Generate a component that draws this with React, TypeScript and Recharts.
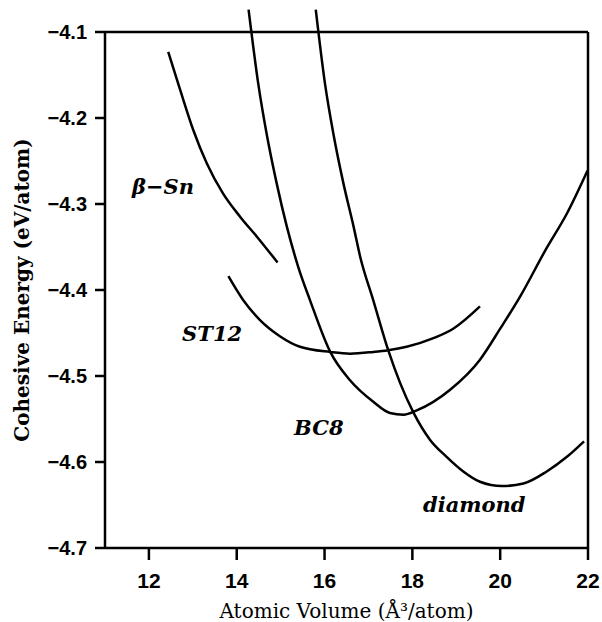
// Cohesive energy vs atomic volume for four Si phases -- recharts line chart.

import { Label, Line, LineChart, ReferenceDot, XAxis, YAxis } from "recharts";

const betaSnVolume = [12.44, 12.71, 13.01, 13.32, 13.69, 14.08, 14.46, 14.93];
const betaSnEnergy = [-4.123, -4.167, -4.214, -4.253, -4.288, -4.315, -4.338, -4.368];

const st12Volume = [13.81, 14.15, 14.53, 14.99, 15.44, 16.13, 16.58, 17.11, 17.45, 17.87, 18.48, 18.93, 19.54];
const st12Energy = [-4.384, -4.412, -4.435, -4.454, -4.466, -4.472, -4.474, -4.472, -4.47, -4.466, -4.456, -4.445, -4.419];

const bc8Volume = [14.27, 14.49, 14.68, 14.91, 15.14, 15.4, 15.67, 16.13, 16.58, 17.11, 17.49, 17.8, 18.1, 18.86, 19.54, 20.0, 20.45, 21.06, 21.52, 21.99];
const bc8Energy = [-4.074, -4.16, -4.218, -4.276, -4.326, -4.373, -4.412, -4.472, -4.505, -4.53, -4.543, -4.545, -4.54, -4.516, -4.481, -4.445, -4.408, -4.351, -4.311, -4.261];

const diamondVolume = [15.8, 16.01, 16.2, 16.43, 16.66, 16.81, 17.11, 17.45, 17.72, 18.02, 18.4, 18.78, 19.16, 19.54, 20.04, 20.53, 21.06, 21.52, 21.91];
const diamondEnergy = [-4.074, -4.16, -4.218, -4.276, -4.326, -4.361, -4.412, -4.47, -4.508, -4.542, -4.574, -4.594, -4.611, -4.623, -4.628, -4.625, -4.611, -4.594, -4.576];

const volumeTicks = [12, 14, 16, 18, 20, 22];
const energyTicks = [-4.7, -4.6, -4.5, -4.4, -4.3, -4.2, -4.1];

const phaseNames = ["β−Sn", "ST12", "BC8", "diamond"];
const phaseLabelVolume = [12.32, 13.44, 15.87, 19.41];
const phaseLabelEnergy = [-4.28, -4.451, -4.56, -4.65];

const zip = (xs: number[], ys: number[]) => xs.map((x, i) => ({ x, y: ys[i] }));

const curves = [
	zip(betaSnVolume, betaSnEnergy),
	zip(st12Volume, st12Energy),
	zip(bc8Volume, bc8Energy),
	zip(diamondVolume, diamondEnergy),
];

const ink = "#000";
const axisStroke = { stroke: ink, strokeWidth: 2.5 };
const tickFont = { fill: ink, fontWeight: 700, fontFamily: "Liberation Sans" };

export default function App() {
	return (
		<div style={{ position: "absolute", left: 0, top: 0, width: 602, height: 622, background: "#fff" }}>
			<style>{".phase-curve, .phase-curve * { clip-path: none; }"}</style>
			<LineChart width={602} height={622} margin={{ top: 0, right: 0, bottom: 0, left: 0 }}>
				<XAxis
					dataKey="x"
					type="number"
					domain={[11, 22]}
					allowDataOverflow
					ticks={volumeTicks}
					height={74}
					tickSize={12}
					tickMargin={13}
					axisLine={axisStroke}
					tickLine={axisStroke}
					tick={{ ...tickFont, fontSize: 21 }}
				>
					<Label
						content={(p: any) => (
							<text
								x={p.viewBox.x + p.viewBox.width / 2}
								y={p.viewBox.y + 70}
								textAnchor="middle"
								fontFamily="DejaVu Serif"
								fontSize={20}
								fill={ink}
							>
								Atomic Volume (Å³/atom)
							</text>
						)}
					/>
				</XAxis>
				<XAxis
					xAxisId="top"
					orientation="top"
					type="number"
					domain={[11, 22]}
					allowDataOverflow
					ticks={volumeTicks}
					height={32}
					tickSize={13}
					tick={false}
					axisLine={axisStroke}
					tickLine={axisStroke}
				/>
				<YAxis
					type="number"
					domain={[-4.7, -4.1]}
					allowDataOverflow
					ticks={energyTicks}
					width={105}
					tickSize={10}
					tickMargin={8}
					axisLine={axisStroke}
					tickLine={axisStroke}
					tick={{ ...tickFont, fontSize: 20 }}
					tickFormatter={(v: number) => v.toFixed(1).replace("-", "−")}
				>
					<Label
						content={(p: any) => {
							const cx = p.viewBox.x + 22;
							const cy = p.viewBox.y + p.viewBox.height / 2;
							return (
								<text
									x={cx}
									y={cy}
									transform={`rotate(-90 ${cx} ${cy})`}
									textAnchor="middle"
									dominantBaseline="central"
									fontFamily="DejaVu Serif"
									fontWeight={700}
									fontSize={20}
									fill={ink}
								>
									Cohesive Energy (eV/atom)
								</text>
							);
						}}
					/>
				</YAxis>
				<YAxis
					yAxisId="right"
					orientation="right"
					type="number"
					domain={[-4.7, -4.1]}
					allowDataOverflow
					ticks={energyTicks}
					width={14}
					tickSize={10}
					tick={false}
					axisLine={axisStroke}
					tickLine={axisStroke}
				/>
				{curves.map((data, i) => (
					<Line
						key={phaseNames[i]}
						className="phase-curve"
						data={data}
						dataKey="y"
						type="monotone"
						stroke={ink}
						strokeWidth={2.5}
						dot={false}
						activeDot={false}
						isAnimationActive={false}
					/>
				))}
				{phaseNames.map((name, i) => (
					<ReferenceDot
						key={name}
						x={phaseLabelVolume[i]}
						y={phaseLabelEnergy[i]}
						r={0}
						stroke="none"
						fill="none"
						label={{
							value: name,
							position: "center",
							fill: ink,
							fontFamily: "DejaVu Serif",
							fontWeight: 700,
							fontStyle: "italic",
							fontSize: 21,
						}}
					/>
				))}
			</LineChart>
		</div>
	);
}
